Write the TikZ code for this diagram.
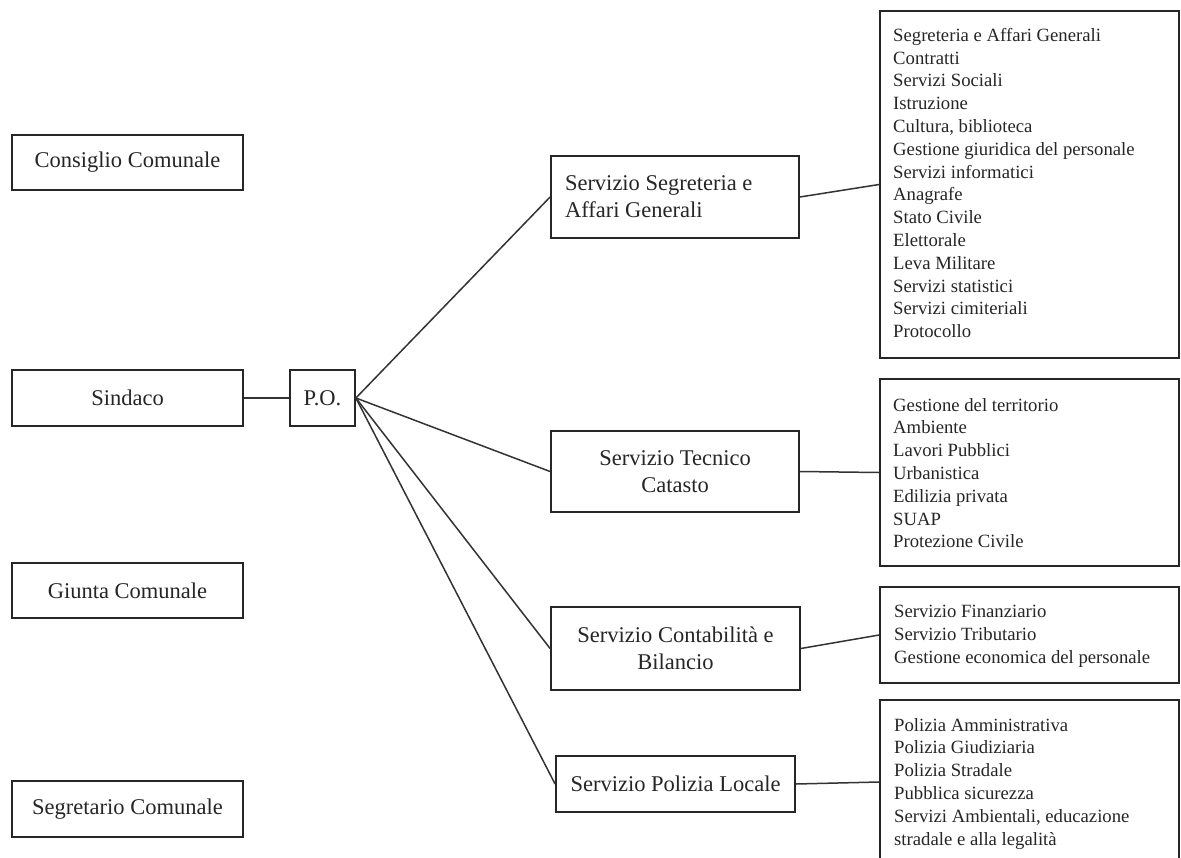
\documentclass[tikz,border=0pt]{standalone}
\usepackage{fontspec}
\setmainfont{Liberation Serif}
\begin{document}
\begin{tikzpicture}[x=1pt,y=-1pt,
  box/.style={draw=black!85, line width=1.8pt, inner sep=0pt, text=black!85},
  big/.style={font=\fontsize{22.5}{27}\selectfont, align=flush center},
  listtext/.style={inner sep=0pt, align=flush left, anchor=north west, text=black!85, font=\fontsize{18.7}{22.8}\selectfont},
  link/.style={draw=black!80, line width=1.5pt}]
\useasboundingbox (0,0) rectangle (1181,857);
\fill[white] (0,0) rectangle (1181,857);
\clip (0,0) rectangle (1181,857);

% left column
\node[box, big, minimum width=231, minimum height=55] (cons) at (127.5,162.5) {Consiglio Comunale};
\node[box, big, minimum width=231, minimum height=56] (sind) at (127.5,398) {Sindaco};
\node[box, big, minimum width=231, minimum height=55] (giun) at (127.5,590.5) {Giunta Comunale};
\node[box, big, minimum width=231, minimum height=56] (segr) at (127.5,809) {Segretario Comunale};
\node[box, big, minimum width=65, minimum height=56] (po) at (322.5,398) {P.O.};

% services
\node[box, font=\fontsize{22.5}{27}\selectfont, align=flush left, text width=220, inner xsep=14pt, minimum height=82] (sseg) at (675,197) {Servizio Segreteria e\\Affari Generali};
\node[box, big, minimum width=248, minimum height=81] (stec) at (675,471.5) {Servizio Tecnico\\Catasto};
\node[box, big, minimum width=249, minimum height=83] (scon) at (675.5,648.5) {Servizio Contabilità e\\Bilancio};
\node[box, big, minimum width=239, minimum height=56] (spol) at (675.5,784) {Servizio Polizia Locale};

% list boxes
\node[box, minimum width=299, minimum height=347] (lseg) at (1029.5,184.5) {};
\node[box, minimum width=299, minimum height=187] (ltec) at (1029.5,472.5) {};
\node[box, minimum width=299, minimum height=96] (lcon) at (1029.5,635) {};
\node[box, minimum width=299, minimum height=164] (lpol) at (1029.5,782) {};

\node[listtext] (tseg) at (893,28) {Segreteria e Affari Generali\\Contratti\\Servizi Sociali\\Istruzione\\Cultura, biblioteca\\Gestione giuridica del personale\\Servizi informatici\\Anagrafe\\Stato Civile\\Elettorale\\Leva Militare\\Servizi statistici\\Servizi cimiteriali\\Protocollo};
\node[listtext] (ttec) at (893,398) {Gestione del territorio\\Ambiente\\Lavori Pubblici\\Urbanistica\\Edilizia privata\\SUAP\\Protezione Civile};
\node[listtext] (tcon) at (894,605) {Servizio Finanziario\\Servizio Tributario\\Gestione economica del personale};
\node[listtext] (tpol) at (894,718) {Polizia Amministrativa\\Polizia Giudiziaria\\Polizia Stradale\\Pubblica sicurezza\\Servizi Ambientali, educazione\\stradale e alla legalità};

% connectors
\draw[link] (sind.east) -- (po.west);
\draw[link] (po.east) -- (sseg.west);
\draw[link] (po.east) -- (stec.west);
\draw[link] (po.east) -- (scon.west);
\draw[link] (po.east) -- (spol.west);
\draw[link] (sseg.east) -- (lseg.west);
\draw[link] (stec.east) -- (ltec.west);
\draw[link] (scon.east) -- (lcon.west);
\draw[link] (spol.east) -- (lpol.west);
\end{tikzpicture}
\end{document}
